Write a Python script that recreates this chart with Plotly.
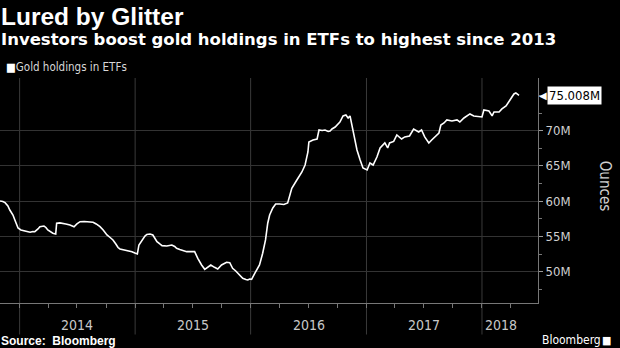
import plotly.graph_objects as go

dates = [
    "2013-10-31", "2013-11-09", "2013-11-16", "2013-11-25", "2013-12-01", "2013-12-11", "2013-12-17", "2013-12-27",
    "2014-01-05", "2014-01-12", "2014-01-21", "2014-02-03", "2014-02-12", "2014-02-18", "2014-02-28", "2014-03-06",
    "2014-03-19", "2014-03-25", "2014-03-31", "2014-04-10", "2014-04-16", "2014-04-25", "2014-04-28", "2014-05-08",
    "2014-05-17", "2014-05-27", "2014-06-09", "2014-06-22", "2014-07-01", "2014-07-11", "2014-07-24", "2014-08-02",
    "2014-08-12", "2014-08-21", "2014-08-31", "2014-09-12", "2014-09-22", "2014-10-04", "2014-10-14", "2014-10-23",
    "2014-11-01", "2014-11-08", "2014-11-14", "2014-11-30", "2014-12-12", "2014-12-22", "2014-12-31", "2015-01-08",
    "2015-01-13", "2015-01-19", "2015-02-01", "2015-02-07", "2015-02-17", "2015-02-26", "2015-03-04", "2015-03-11",
    "2015-03-20", "2015-03-27", "2015-04-11", "2015-04-27", "2015-05-06", "2015-05-12", "2015-05-22", "2015-05-31",
    "2015-06-13", "2015-06-23", "2015-07-08", "2015-07-18", "2015-07-24", "2015-07-30", "2015-08-09", "2015-08-18",
    "2015-08-28", "2015-09-09", "2015-09-19", "2015-10-01", "2015-10-17", "2015-10-27", "2015-11-05", "2015-11-15",
    "2015-11-21", "2015-12-01", "2015-12-07", "2015-12-17", "2015-12-23", "2015-12-29", "2016-01-04", "2016-01-14",
    "2016-01-23", "2016-01-29", "2016-02-08", "2016-02-17", "2016-02-24", "2016-03-01", "2016-03-11", "2016-03-20",
    "2016-04-02", "2016-04-15", "2016-04-27", "2016-05-10", "2016-05-26", "2016-06-11", "2016-06-21", "2016-06-30",
    "2016-07-03", "2016-07-16", "2016-07-29", "2016-08-04", "2016-08-14", "2016-08-23", "2016-09-02", "2016-09-08",
    "2016-09-14", "2016-09-24", "2016-10-09", "2016-10-19", "2016-10-28", "2016-11-04", "2016-11-10", "2016-11-20",
    "2016-12-02", "2016-12-12", "2016-12-21", "2017-01-03", "2017-01-12", "2017-01-22", "2017-02-03", "2017-02-13",
    "2017-02-28", "2017-03-09", "2017-03-15", "2017-03-28", "2017-04-07", "2017-04-22", "2017-05-02", "2017-05-17",
    "2017-05-30", "2017-06-15", "2017-06-24", "2017-07-04", "2017-07-17", "2017-07-26", "2017-08-05", "2017-08-18",
    "2017-08-24", "2017-09-03", "2017-09-12", "2017-09-28", "2017-10-14", "2017-10-23", "2017-11-05", "2017-11-24",
    "2017-12-06", "2017-12-22", "2018-01-01", "2018-01-07", "2018-01-23", "2018-02-02", "2018-02-08", "2018-02-24",
    "2018-03-05", "2018-03-18", "2018-03-31", "2018-04-12", "2018-04-18", "2018-04-28",
]
holdings_m = [
    60.03, 59.96, 59.79, 59.32, 58.75, 58.04, 57.33, 56.20,
    55.91, 55.82, 55.70, 55.59, 55.70, 55.67, 56.06, 56.38,
    56.48, 56.27, 55.91, 55.63, 55.45, 55.35, 56.87, 56.92,
    56.87, 56.77, 56.62, 56.38, 56.77, 57.09, 57.12, 57.09,
    57.12, 57.01, 56.77, 56.38, 55.91, 55.21, 54.85, 54.50,
    53.93, 53.43, 53.22, 53.08, 52.91, 52.84, 52.65, 52.51,
    53.79, 54.21, 55.06, 55.28, 55.35, 55.21, 54.78, 54.26,
    53.93, 53.69, 53.65, 53.79, 53.57, 53.32, 53.15, 52.98,
    52.84, 52.84, 52.84, 51.90, 51.38, 50.95, 50.34, 50.57,
    50.95, 50.62, 50.38, 50.95, 51.33, 51.28, 50.48, 50.10,
    49.77, 49.39, 49.06, 48.89, 48.82, 48.96, 48.92, 49.77,
    50.52, 50.95, 52.61, 54.50, 56.87, 58.04, 59.04, 59.60,
    59.60, 59.53, 59.74, 61.83, 63.01, 64.14, 65.13, 66.98,
    68.40, 68.68, 68.82, 70.10, 70.03, 70.10, 69.89, 69.96,
    70.24, 70.52, 71.23, 72.09, 72.23, 71.80, 72.09, 69.67,
    67.26, 65.84, 64.71, 64.43, 65.42, 65.13, 66.27, 67.55,
    68.26, 67.55, 68.26, 68.47, 69.39, 68.82, 69.11, 69.25,
    70.24, 69.82, 70.10, 69.11, 68.26, 68.68, 69.11, 69.67,
    70.81, 71.09, 71.52, 71.38, 71.52, 71.23, 71.80, 72.37,
    72.09, 71.94, 71.94, 72.94, 72.79, 72.09, 72.65, 72.65,
    73.08, 73.50, 74.35, 75.21, 75.35, 75.008,
]

year_labels = ["2014", "2015", "2016", "2017", "2018"]
year_label_pos = ["2014-07-02", "2015-07-02", "2016-07-02", "2017-07-02", "2018-03-01"]
year_starts = ["2014-01-01", "2015-01-01", "2016-01-01", "2017-01-01", "2018-01-01"]
y_ticks = [50, 55, 60, 65, 70]
y_tick_text = ["50M", "55M", "60M", "65M", "70M"]

FONT = "Liberation Sans Narrow, DejaVu Sans Condensed, Arial Narrow, Liberation Sans, sans-serif"
TITLE_FONT = "Liberation Sans, Arial, sans-serif"
SUB_FONT = "DejaVu Sans, Verdana, sans-serif"

fig = go.Figure()
fig.add_trace(go.Scatter(x=dates, y=holdings_m, mode="lines",
                         line=dict(color="#ffffff", width=1.6), hoverinfo="skip"))

shapes = []
for ys in year_starts:
    shapes.append(dict(type="line", xref="x", yref="paper", x0=ys, x1=ys, y0=-0.14, y1=1,
                       line=dict(color="#3a3a3a", width=1), layer="below"))

annotations = [
    dict(text="<b>Lured by Glitter</b>", xref="paper", yref="paper", x=-0.002, y=1.272,
         xanchor="left", yanchor="middle", showarrow=False,
         font=dict(family=TITLE_FONT, size=24.5, color="#ffffff")),
    dict(text="<b>Investors boost gold holdings in ETFs to highest since 2013</b>", xref="paper", yref="paper",
         x=-0.002, y=1.17, xanchor="left", yanchor="middle", showarrow=False,
         font=dict(family=SUB_FONT, size=16.5, color="#ffffff")),
    dict(text="■<span style='color:#d8d8d8'>Gold holdings in ETFs</span>", xref="paper", yref="paper",
         x=0.008, y=1.05, xanchor="left", yanchor="middle", showarrow=False,
         font=dict(family=FONT, size=11.5, color="#ffffff")),
    dict(text="Ounces", xref="paper", yref="paper", x=1.125, y=0.52, textangle=90,
         xanchor="center", yanchor="middle", showarrow=False,
         font=dict(family=FONT, size=15, color="#d0d0d0")),
    dict(text="<b>Source:  Bloomberg</b>", xref="paper", yref="paper", x=-0.002, y=-0.17,
         xanchor="left", yanchor="middle", showarrow=False,
         font=dict(family=TITLE_FONT, size=12, color="#ffffff")),
    dict(text="Bloomberg", xref="paper", yref="paper", x=1.12, y=-0.165,
         xanchor="right", yanchor="middle", showarrow=False,
         font=dict(family=FONT, size=12, color="#ffffff")),
    dict(text="■", xref="paper", yref="paper", x=1.14, y=-0.165,
         xanchor="right", yanchor="middle", showarrow=False,
         font=dict(family=FONT, size=11, color="#ffffff")),
]
for lab, pos in zip(year_labels, year_label_pos):
    annotations.append(dict(text=lab, xref="x", yref="paper", x=pos, y=-0.098,
                            xanchor="center", yanchor="middle", showarrow=False,
                            font=dict(family=FONT, size=14, color="#c8c8c8")))

last_val = holdings_m[-1]
annotations.append(dict(text=f"{last_val:.3f}M", xref="paper", yref="y", x=1.017, y=last_val,
                        xanchor="left", yanchor="middle", showarrow=False, bgcolor="#ffffff",
                        borderpad=1, font=dict(family=FONT, size=13, color="#000000")))
annotations.append(dict(text="◀", xref="paper", yref="y", x=1.021, y=last_val,
                        xanchor="right", yanchor="middle", showarrow=False,
                        font=dict(family="DejaVu Sans", size=10, color="#ffffff")))

fig.update_layout(
    width=620, height=348,
    margin=dict(l=0, r=82, t=78, b=45),
    paper_bgcolor="#000000", plot_bgcolor="#000000",
    showlegend=False,
    shapes=shapes,
    annotations=annotations,
    xaxis=dict(range=["2013-10-31", "2018-06-27"], showgrid=False, zeroline=False,
               showline=True, linecolor="#777777", linewidth=1,
               tickvals=year_starts, ticktext=["", "", "", "", ""], ticks="",
               minor=dict(ticks="outside", ticklen=4, tickcolor="#777777", dtick="M3",
                          tick0="2014-01-01", showgrid=False)),
    yaxis=dict(side="right", range=[45.56, 77.47], tickvals=y_ticks, ticktext=y_tick_text,
               showgrid=True, gridcolor="#333333", gridwidth=1, zeroline=False,
               showline=True, linecolor="#777777", linewidth=1,
               ticks="outside", ticklen=4, tickcolor="#999999",
               tickfont=dict(family=FONT, size=13, color="#d0d0d0"),
               minor=dict(ticks="outside", ticklen=3, tickcolor="#777777", dtick=2.5, tick0=45,
                          showgrid=False)),
)

fig.write_html("out.html")
